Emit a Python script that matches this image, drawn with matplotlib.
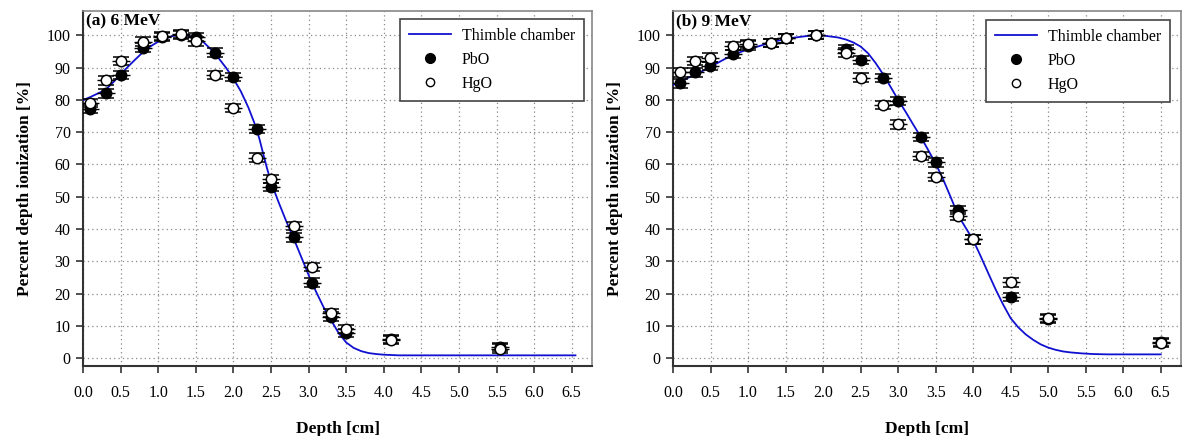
import matplotlib
matplotlib.use("Agg")
import matplotlib.pyplot as plt
from matplotlib.lines import Line2D

plt.rcParams['font.family'] = ['Liberation Serif', 'DejaVu Serif']

# ---------------- data: (a) 6 MeV ----------------
curve6_x = [0.0, 0.1, 0.2, 0.3, 0.4, 0.5, 0.6, 0.7, 0.8, 0.9, 1.0, 1.1, 1.2, 1.3,
            1.4, 1.5, 1.6, 1.7, 1.8, 1.9, 2.0, 2.1, 2.2, 2.3, 2.35, 2.4, 2.45, 2.5, 2.6, 2.7,
            2.8, 2.9, 3.0, 3.1, 3.2, 3.3, 3.4, 3.5, 3.6, 3.7, 3.8, 3.9, 4.0, 4.2,
            4.5, 5.0, 5.5, 6.0, 6.55]
curve6_y = [79.9, 80.9, 82.0, 83.1, 85.4, 87.9, 90.3, 92.6, 94.8, 96.6, 98.0, 99.1, 99.8, 100.0,
            99.8, 99.2, 97.9, 95.7, 93.0, 90.0, 86.6, 82.6, 77.6, 71.6, 67.6, 63.0, 58.6, 54.6, 48.4, 42.6,
            37.2, 31.5, 25.8, 20.6, 15.8, 11.8, 7.8, 4.9, 3.2, 2.2, 1.6, 1.3, 1.1, 0.9,
            0.9, 0.9, 0.9, 0.9, 0.9]

pbo6_x = [0.09, 0.31, 0.5, 0.8, 1.05, 1.3, 1.5, 1.75, 2.0, 2.31, 2.5, 2.81, 3.05, 3.3, 3.5, 4.1, 5.55]
pbo6_y = [77.1, 82.0, 87.6, 96.2, 99.4, 100.0, 99.5, 94.6, 87.1, 70.9, 53.1, 37.4, 23.4, 12.9, 7.9, 5.9, 3.4]
hgo6_x = [0.09, 0.31, 0.5, 0.8, 1.05, 1.3, 1.5, 1.75, 2.0, 2.31, 2.5, 2.81, 3.05, 3.3, 3.5, 4.1, 5.55]
hgo6_y = [79.1, 86.0, 92.0, 98.0, 99.7, 100.3, 98.1, 87.6, 77.4, 62.1, 55.4, 40.9, 28.2, 14.1, 9.0, 5.7, 3.0]

# ---------------- data: (b) 9 MeV ----------------
curve9_x = [0.0, 0.2, 0.4, 0.6, 0.8, 1.0, 1.2, 1.4, 1.6, 1.8, 1.9, 2.0, 2.2, 2.3, 2.4, 2.5,
            2.6, 2.7, 2.8, 2.9, 3.0, 3.1, 3.2, 3.3, 3.4, 3.5, 3.6, 3.7, 3.8, 3.9, 4.0,
            4.1, 4.2, 4.3, 4.4, 4.5, 4.6, 4.7, 4.8, 4.9, 5.0, 5.1, 5.2, 5.3, 5.45, 5.6,
            5.8, 6.0, 6.5]
curve9_y = [84.6, 86.8, 89.0, 91.5, 94.0, 95.6, 97.0, 98.3, 99.2, 99.8, 100.0, 99.9, 99.3, 98.7, 97.8, 96.5,
            94.4, 91.4, 87.9, 84.0, 80.0, 76.3, 72.4, 68.6, 64.5, 60.3, 55.4, 49.9, 44.3, 40.4, 36.6,
            31.6, 26.4, 21.3, 16.6, 12.4, 9.6, 7.4, 5.7, 4.3, 3.3, 2.6, 2.1, 1.8, 1.5, 1.3,
            1.2, 1.2, 1.2]

pbo9_x = [0.09, 0.29, 0.49, 0.8, 1.0, 1.3, 1.5, 1.9, 2.3, 2.5, 2.8, 3.0, 3.3, 3.5, 3.8, 4.0, 4.5, 5.0, 6.5]
pbo9_y = [85.1, 88.5, 90.5, 94.2, 96.8, 97.6, 99.0, 100.0, 95.7, 92.3, 86.8, 79.6, 68.5, 60.6, 45.9, 36.8, 18.9, 12.2, 5.0]
hgo9_x = [0.09, 0.29, 0.49, 0.8, 1.0, 1.3, 1.5, 1.9, 2.3, 2.5, 2.8, 3.0, 3.3, 3.5, 3.8, 4.0, 4.5, 5.0, 6.5]
hgo9_y = [88.5, 92.0, 93.1, 96.6, 97.2, 97.6, 99.0, 100.0, 94.6, 86.9, 78.4, 72.4, 62.6, 56.2, 44.1, 36.8, 23.5, 12.4, 4.8]

panel_titles = ["(a) 6 MeV", "(b) 9 MeV"]
x_ticks = [0.0, 0.5, 1.0, 1.5, 2.0, 2.5, 3.0, 3.5, 4.0, 4.5, 5.0, 5.5, 6.0, 6.5]
y_ticks = [0, 10, 20, 30, 40, 50, 60, 70, 80, 90, 100]
legend_labels = ["Thimble chamber", "PbO", "HgO"]

fig = plt.figure(figsize=(11.89, 4.36), dpi=100)
ax1 = fig.add_axes([83/1189, 1-366/436, (592-83)/1189, (366-11)/436])
ax2 = fig.add_axes([673/1189, 1-366/436, (1181-673)/1189, (366-11)/436])

panels = [
    (ax1, panel_titles[0], curve6_x, curve6_y, pbo6_x, pbo6_y, hgo6_x, hgo6_y, (0.984, 0.977)),
    (ax2, panel_titles[1], curve9_x, curve9_y, pbo9_x, pbo9_y, hgo9_x, hgo9_y, (0.978, 0.974)),
]

for ax, title, cx, cy, px, py, hx, hy, anchor in panels:
    ax.set_xlim(0, 6.77)
    ax.set_ylim(-2.4, 107.5)
    ax.set_xticks(x_ticks)
    ax.set_xticklabels([f"{t:.1f}" for t in x_ticks])
    ax.set_yticks(y_ticks)
    ax.grid(True, linestyle=(0, (1, 2.5)), color='#888888', linewidth=0.9)
    ax.set_axisbelow(True)
    for s in ['top', 'right']:
        ax.spines[s].set_color('#888888')
        ax.spines[s].set_linewidth(1.2)
    for s in ['left', 'bottom']:
        ax.spines[s].set_color('#333333')
        ax.spines[s].set_linewidth(1.5)
    ax.tick_params(direction='out', length=5, width=1.2, labelsize=11.5, color='#333333', pad=4)
    ax.tick_params(axis='x', pad=9)

    ax.plot(cx, cy, color='#1010d0', lw=1.3, zorder=3)
    for xs, ys, face, z in [(px, py, 'black', 4), (hx, hy, 'white', 5)]:
        ax.errorbar(xs, ys, xerr=0.12, fmt='none', ecolor='black', elinewidth=1.0,
                    capsize=0, zorder=z)
        ax.errorbar(xs, ys, yerr=1.3, fmt='o', ms=7.5, mfc=face, mec='black', mew=1.1,
                    ecolor='black', elinewidth=1.0, capsize=6, capthick=1.0, zorder=z)

    ax.text(0.006, 0.993, title, transform=ax.transAxes, ha='left', va='top',
            fontsize=12.5, fontweight='bold')
    ax.set_xlabel("Depth [cm]", fontsize=12.5, fontweight='bold', labelpad=14)
    ax.set_ylabel("Percent depth ionization [%]", fontsize=12.5, fontweight='bold', labelpad=10)

    handles = [Line2D([], [], color='#1010d0', lw=1.3),
               Line2D([], [], marker='o', ls='', mfc='black', mec='black', ms=7),
               Line2D([], [], marker='o', ls='', mfc='white', mec='black', ms=6)]
    leg = ax.legend(handles, legend_labels, loc='upper right', fontsize=11.5, frameon=True,
                    fancybox=False, edgecolor='#444444', framealpha=1, borderpad=0.55,
                    handlelength=2.6, handletextpad=0.7, labelspacing=0.5, borderaxespad=0,
                    bbox_to_anchor=anchor)
    leg.get_frame().set_linewidth(1.2)

fig.savefig("out.png", dpi=100)
